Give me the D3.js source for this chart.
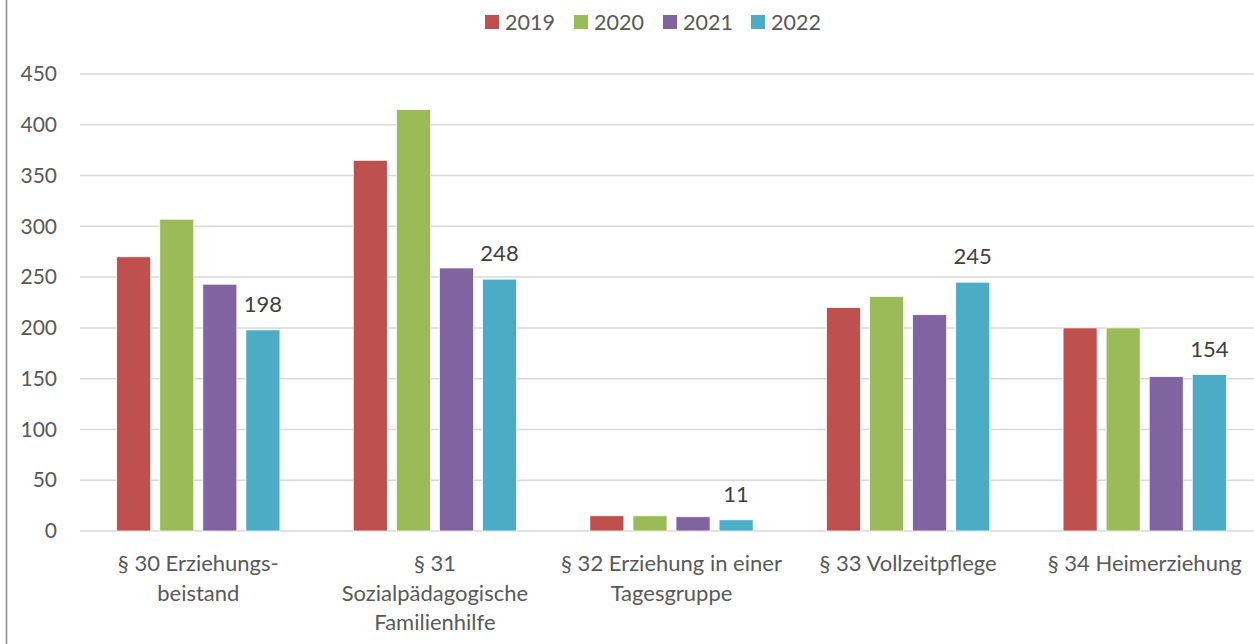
<!DOCTYPE html>
<html>
<head>
<meta charset="utf-8">
<title>Hilfen zur Erziehung</title>
<script src="https://cdn.jsdelivr.net/npm/d3@7"></script>
<style>
  body { margin: 0; background: #fff; }
  text { font-family: Lato, "Open Sans", sans-serif; fill: #595959; }
</style>
</head>
<body>
<script>
// data
var categories = ["§ 30", "§ 31", "§ 32", "§ 33", "§ 34"];
var categoryLabels = [
  ["§ 30 Erziehungs-", "beistand"],
  ["§ 31", "Sozialpädagogische", "Familienhilfe"],
  ["§ 32 Erziehung in einer", "Tagesgruppe"],
  ["§ 33 Vollzeitpflege"],
  ["§ 34 Heimerziehung"]
];
var years = ["2019", "2020", "2021", "2022"];
var values2019 = [270, 365, 15, 220, 200];
var values2020 = [307, 415, 15, 231, 200];
var values2021 = [243, 259, 14, 213, 152];
var values2022 = [198, 248, 11, 245, 154];
var yTicks = [0, 50, 100, 150, 200, 250, 300, 350, 400, 450];
var colors = ["#C0504D", "#9BBB59", "#8064A2", "#4BACC6"];

var series = [values2019, values2020, values2021, values2022];

var width = 1254, height = 644;
var svg = d3.select("body").append("svg")
  .attr("width", width)
  .attr("height", height);

// left border of the chart frame
svg.append("line")
  .attr("x1", 6.5).attr("x2", 6.5)
  .attr("y1", 0).attr("y2", height)
  .attr("stroke", "#868686")
  .attr("stroke-width", 1.5);

var x0 = d3.scaleBand().domain(categories).range([80, 1263])
  .paddingInner(0.31).paddingOuter(0.155);
var x1 = d3.scaleBand().domain(years).range([0, x0.bandwidth()])
  .paddingInner(0.21).paddingOuter(0);
var y = d3.scaleLinear().domain([0, 450]).range([531, 74]);

// gridlines + y axis
var yAxis = d3.axisLeft(y).tickValues(yTicks).tickSize(0).tickPadding(0);
var gy = svg.append("g").attr("transform", "translate(57,0)").call(yAxis);
gy.select(".domain").remove();
gy.selectAll("text").style("font-size", "21px").style("font-family", null).attr("fill", "#595959");

svg.append("g").selectAll("line")
  .data(yTicks)
  .enter().append("line")
  .attr("x1", 80).attr("x2", width)
  .attr("y1", function (d) { return y(d); })
  .attr("y2", function (d) { return y(d); })
  .attr("stroke", "#d9d9d9")
  .attr("stroke-width", 1.5);

// bars
var groups = svg.append("g").selectAll("g")
  .data(series)
  .enter().append("g")
  .attr("fill", function (d, i) { return colors[i]; });

groups.selectAll("rect")
  .data(function (d, i) {
    return d.map(function (v, j) { return { cat: categories[j], year: years[i], v: v }; });
  })
  .enter().append("rect")
  .attr("x", function (d) { return x0(d.cat) + x1(d.year); })
  .attr("y", function (d) { return y(d.v); })
  .attr("width", x1.bandwidth())
  .attr("height", function (d) { return y(0) - y(d.v); })
  .attr("stroke", "#fff")
  .attr("stroke-width", 0.75);

// data labels for 2022
svg.append("g").selectAll("text")
  .data(values2022)
  .enter().append("text")
  .attr("x", function (d, j) { return x0(categories[j]) + x1("2022") + x1.bandwidth() / 2; })
  .attr("y", function (d) { return y(d) - 18; })
  .attr("text-anchor", "middle")
  .style("font-size", "22px")
  .style("fill", "#404040")
  .text(function (d) { return d; });

// category labels
var xl = svg.append("g").selectAll("text")
  .data(categoryLabels)
  .enter().append("text")
  .attr("text-anchor", "middle")
  .attr("x", function (d, j) { return x0(categories[j]) + x0.bandwidth() / 2; })
  .attr("y", 571)
  .style("font-size", "22px");
xl.selectAll("tspan")
  .data(function (d) { return d; })
  .enter().append("tspan")
  .attr("x", function () { return d3.select(this.parentNode).attr("x"); })
  .attr("dy", function (d, i) { return i === 0 ? 0 : 29.5; })
  .text(function (d) { return d; });

// legend
var legendX = [485, 574, 663, 751];
var lg = svg.append("g").selectAll("g")
  .data(years)
  .enter().append("g")
  .attr("transform", function (d, i) { return "translate(" + legendX[i] + ",15)"; });
lg.append("rect")
  .attr("width", 14).attr("height", 14)
  .attr("fill", function (d, i) { return colors[i]; });
lg.append("text")
  .attr("x", 20).attr("y", 15)
  .style("font-size", "21.5px")
  .text(function (d) { return d; });
</script>
</body>
</html>
